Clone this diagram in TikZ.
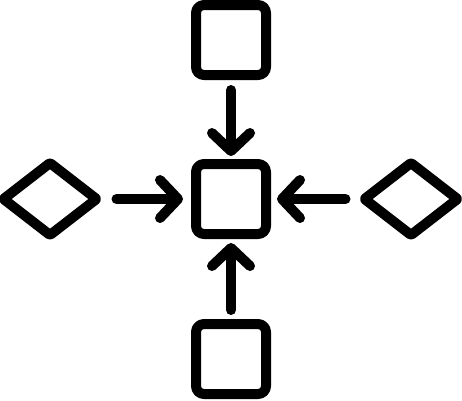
\documentclass[tikz,border=0pt]{standalone}
\usepackage{tikz}
\usetikzlibrary{shapes.geometric,arrows.meta}

\begin{document}
\begin{tikzpicture}[x=1pt,y=-1pt,line width=10pt,line join=round]

      \useasboundingbox (0,0) rectangle (462,400);

      \begin{scope}[every node/.style={rectangle,draw,rounded corners=8pt,minimum size=70pt,inner sep=0pt,outer sep=0pt}]
        \node (top)    at (231,40)  {};
        \node (centre) at (231,199) {};
        \node (bottom) at (231,359) {};
      \end{scope}

      \begin{scope}[every node/.style={diamond,draw,rounded corners=1pt,minimum width=93pt,minimum height=72pt,inner sep=0pt,outer sep=0pt}]
        \node (left)  at (50,199)  {};
        \node (right) at (411,199) {};
      \end{scope}

      \begin{scope}[every edge/.style={draw,line cap=round,-{Straight Barb[round,length=18pt,width=38pt]}}]
        \path (top)    edge[shorten <=15pt,shorten >=8pt] (centre);
        \path (left)   edge[shorten <=20pt,shorten >=13pt] (centre);
        \path (right)  edge[shorten <=19pt,shorten >=11pt] (centre);
        \path (bottom) edge[shorten <=14pt,shorten >=9pt] (centre);
      \end{scope}

    \end{tikzpicture}
\end{document}
